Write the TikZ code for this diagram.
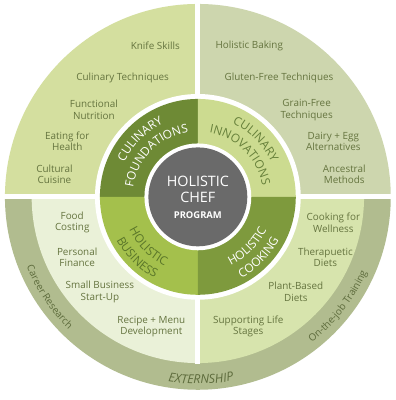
\documentclass[tikz,border=0pt]{standalone}
\usepackage{fontspec}
\setmainfont{Open Sans}
\usetikzlibrary{decorations.text}

\definecolor{tlouter}{HTML}{D4DF9F}
\definecolor{trouter}{HTML}{CDD6AE}
\definecolor{blouter}{HTML}{EAF1D8}
\definecolor{brouter}{HTML}{D7E4AD}
\definecolor{ringgreen}{HTML}{B1BC8F}
\definecolor{tlinner}{HTML}{6E8A35}
\definecolor{trinner}{HTML}{CCDB90}
\definecolor{blinner}{HTML}{A4C04C}
\definecolor{brinner}{HTML}{7E9A3D}
\definecolor{hubgrey}{HTML}{6A6A6A}
\definecolor{itemgreen}{HTML}{65743F}
\definecolor{ringtext}{HTML}{5D6B3C}
\definecolor{trtext}{HTML}{66803A}
\definecolor{bltext}{HTML}{5A7629}

\newcommand{\itemfont}{\fontsize{10}{11.7}\selectfont}
\newcommand{\titlefont}{\fontsize{12}{12}\selectfont}
\newcommand{\ringfont}{\fontsize{10}{11}\selectfont}

\begin{document}
\begin{tikzpicture}
      [x = 1pt, y = 1pt,
      item/.style= {
         align = center,
         text = itemgreen,
         font = \itemfont,
         inner sep = 0pt
      },
      curved/.style 2 args= {
         decorate,
         decoration = {
            text along path,
            text align = center,
            text color = #1,
            text = {#2}
         }
      },
      quarter/.style= {
         fill = #1
      }]

      \fill[white] (-200, -201) rectangle (200, 199);

      \fill[quarter = tlouter] (0, 0) -- (180:195) arc[start angle = 180, end angle = 90, radius = 195] -- cycle;
      \fill[quarter = trouter] (0, 0) -- (90:195) arc[start angle = 90, end angle = 0, radius = 195] -- cycle;
      \fill[quarter = ringgreen] (0, 0) -- (180:195) arc[start angle = 180, end angle = 360, radius = 195] -- cycle;
      \fill[quarter = blouter] (0, 0) -- (180:168) arc[start angle = 180, end angle = 270, radius = 168] -- cycle;
      \fill[quarter = brouter] (0, 0) -- (270:168) arc[start angle = 270, end angle = 360, radius = 168] -- cycle;

      \fill[white] (-197, -2.5) rectangle (197, 2.5);
      \fill[white] (-2.5, 2.5) rectangle (2.5, 197);
      \fill[white] (-2.5, -2.5) rectangle (2.5, -168.5);
      \fill[white] (0, 0) circle[radius = 104];

      \fill[quarter = tlinner] (0, 0) -- (180:99) arc[start angle = 180, end angle = 90, radius = 99] -- cycle;
      \fill[quarter = trinner] (0, 0) -- (90:99) arc[start angle = 90, end angle = 0, radius = 99] -- cycle;
      \fill[quarter = blinner] (0, 0) -- (180:99) arc[start angle = 180, end angle = 270, radius = 99] -- cycle;
      \fill[quarter = brinner] (0, 0) -- (270:99) arc[start angle = 270, end angle = 360, radius = 99] -- cycle;

      \fill[white] (0, 0) circle[radius = 54];
      \fill[hubgrey] (0, 0) circle[radius = 50];

      \node[text = white, font = \fontsize{14.5}{16}\selectfont] (hubone) at (0, 16) {HOLISTIC};
      \node[text = white, font = \fontsize{14.5}{16}\selectfont] (hubtwo) at (0, -1) {CHEF};
      \node[text = white, font = \bfseries\fontsize{9.5}{11}\selectfont] (hubthree) at (0, -18) {PROGRAM};

      \path[curved = {white}{|\titlefont|CULINARY}] (180:82) arc[start angle = 180, end angle = 90, radius = 82];
      \path[curved = {white}{|\titlefont|FOUNDATIONS}] (180:66) arc[start angle = 180, end angle = 90, radius = 66];
      \path[curved = {trtext}{|\titlefont|CULINARY}] (90:82) arc[start angle = 90, end angle = 0, radius = 82];
      \path[curved = {trtext}{|\titlefont|INNOVATIONS}] (90:66) arc[start angle = 90, end angle = 0, radius = 66];
      \path[curved = {bltext}{|\titlefont|HOLISTIC}] (180:77) arc[start angle = 180, end angle = 270, radius = 77];
      \path[curved = {bltext}{|\titlefont|BUSINESS}] (180:93) arc[start angle = 180, end angle = 270, radius = 93];
      \path[curved = {white}{|\titlefont|HOLISTIC}] (270:77) arc[start angle = 270, end angle = 360, radius = 77];
      \path[curved = {white}{|\titlefont|COOKING}] (270:93) arc[start angle = 270, end angle = 360, radius = 93];

      \path[curved = {ringtext}{|\ringfont|Career Research}] (180:187) arc[start angle = 180, end angle = 248, radius = 187];
      \path[curved = {ringtext}{|\ringfont|On-the-job Training}] (284:187) arc[start angle = 284, end angle = 360, radius = 187];
      \path[curved = {ringtext}{|\itshape\fontsize{12.5}{13}\selectfont|EXTERNSHIP}] (230:189) arc[start angle = 230, end angle = 312, radius = 189];

      \node[item] (knife) at (-43, 153) {Knife Skills};
      \node[item] (techniques) at (-76, 120) {Culinary Techniques};
      \node[item] (nutrition) at (-105, 88) {Functional\\Nutrition};
      \node[item] (health) at (-132, 56) {Eating for\\Health};
      \node[item] (cuisine) at (-145, 23) {Cultural\\Cuisine};

      \node[item] (baking) at (52, 153) {Holistic Baking};
      \node[item] (gluten) at (82, 120) {Gluten-Free Techniques};
      \node[item] (grain) at (110, 88) {Grain-Free\\Techniques};
      \node[item] (dairy) at (137, 56) {Dairy + Egg\\Alternatives};
      \node[item] (ancestral) at (148, 23) {Ancestral\\Methods};

      \node[item] (costing) at (-127, -26) {Food\\Costing};
      \node[item] (finance) at (-122, -61) {Personal\\Finance};
      \node[item] (startup) at (-99, -96) {Small Business\\Start-Up};
      \node[item] (menu) at (-47, -131) {Recipe + Menu\\Development};

      \node[item] (wellness) at (137, -26) {Cooking for\\Wellness};
      \node[item] (diets) at (129, -61) {Therapuetic\\Diets};
      \node[item] (plant) at (99, -96) {Plant-Based\\Diets};
      \node[item] (stages) at (51, -131) {Supporting Life\\Stages};

   \end{tikzpicture}
\end{document}
